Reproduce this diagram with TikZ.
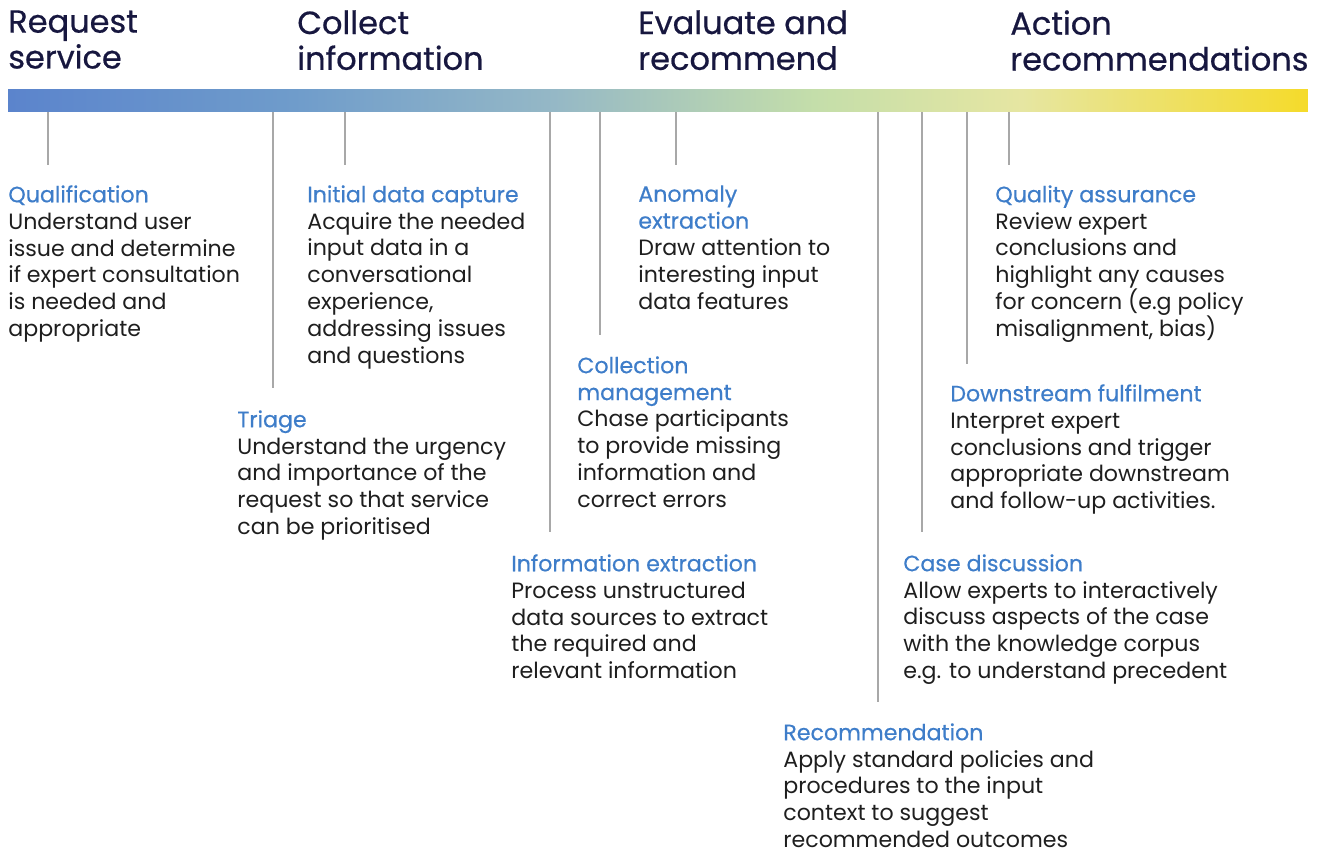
\documentclass[tikz,border=0pt]{standalone}
\usepackage{fontspec}
\setmainfont{Poppins}
\newfontfamily\phasefont{Poppins}[FakeBold=0.6]
\newfontfamily\headfont{Poppins}[FakeBold=0.5]
\usetikzlibrary{positioning}

\definecolor{titlenavy}{HTML}{17173F}
\definecolor{stepblue}{HTML}{3E7DC9}
\definecolor{bodyink}{HTML}{1E1E1E}
\definecolor{tickgrey}{HTML}{A8A8A8}
\definecolor{barA}{HTML}{5B84CC}
\definecolor{barB}{HTML}{6F9CCB}
\definecolor{barC}{HTML}{95B8C6}
\definecolor{barD}{HTML}{C4DEAA}
\definecolor{barE}{HTML}{E6E6A2}
\definecolor{barF}{HTML}{F5DB2A}

\pgfdeclarehorizontalshading{timeline}{100bp}{color(0bp)=(barA); color(25bp)=(barA); color(36bp)=(barB); color(46bp)=(barC); color(56bp)=(barD); color(64bp)=(barE); color(75bp)=(barF); color(100bp)=(barF)}

\tikzset{
	phase/.style={anchor=north west, inner sep=0pt, align=left, text=titlenavy,
		font=\phasefont\fontsize{18.2}{20.4}\selectfont},
	stepnote/.style={anchor=north west, inner sep=0pt, align=left, text=bodyink,
		font=\fontsize{12.6}{15.3}\selectfont},
	tick/.style={draw=tickgrey, line width=1.1pt},
}
\newcommand{\stephead}[1]{{\headfont\color{stepblue}#1}}

\begin{document}
\begin{tikzpicture}[x=0.02cm, y=-0.02cm]
	\useasboundingbox (0,0) rectangle (1320,851);

	% phases along the top
	\node[phase] (request) at (8,10) {Request\\service};
	\node[phase] (collect) at (297,10) {Collect\\information};
	\node[phase] (evaluate) at (638,10) {Evaluate and\\recommend};
	\node[phase] (action) at (1010,10) {Action\\recommendations};

	% the timeline bar
	\node[shading=timeline, minimum width=26cm, minimum height=0.44cm, inner sep=0pt] (bar) at (658,101) {};

	% steps
	\node[stepnote] (qual) at (8,185) {\stephead{Qualification}\\Understand user\\issue and determine\\if expert consultation\\is needed and\\appropriate};
	\node[stepnote] (triage) at (237,410) {\stephead{Triage}\\Understand the urgency\\and importance of the\\request so that service\\can be prioritised};
	\node[stepnote] (capture) at (307,185) {\stephead{Initial data capture}\\Acquire the needed\\input data in a\\conversational\\experience,\\addressing issues\\and questions};
	\node[stepnote] (extract) at (511,554) {\stephead{Information extraction}\\Process unstructured\\data sources to extract\\the required and\\relevant information};
	\node[stepnote] (collection) at (577,356) {\stephead{Collection}\\\stephead{management}\\Chase participants\\to provide missing\\information and\\correct errors};
	\node[stepnote] (anomaly) at (638,185) {\stephead{Anomaly}\\\stephead{extraction}\\Draw attention to\\interesting input\\data features};
	\node[stepnote] (recommend) at (783,723) {\stephead{Recommendation}\\Apply standard policies and\\procedures to the input\\context to suggest\\recommended outcomes};
	\node[stepnote] (discuss) at (903,554) {\stephead{Case discussion}\\Allow experts to interactively\\discuss aspects of the case\\with the knowledge corpus\\e.g. to understand precedent};
	\node[stepnote] (downstream) at (950,384) {\stephead{Downstream fulfilment}\\Interpret expert\\conclusions and trigger\\appropriate downstream\\and follow-up activities.};
	\node[stepnote] (quality) at (995,185) {\stephead{Quality assurance}\\Review expert\\conclusions and\\highlight any causes\\for concern (e.g policy\\misalignment, bias)};

	% ticks hanging from the bar
	\foreach \tx/\ty/\n in {48/165/qual, 273/388/triage, 345/165/capture, 550/532/extract,
		600/335/collection, 676/165/anomaly, 878/702/recommend, 922/532/discuss,
		967/364/downstream, 1009/165/quality}
		\draw[tick] (bar.south -| \tx,0) -- (\tx,\ty) coordinate (\n-tick);
\end{tikzpicture}
\end{document}
